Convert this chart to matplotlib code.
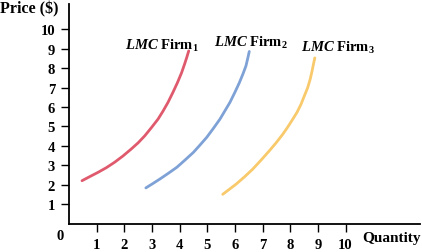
import numpy as np
import matplotlib.pyplot as plt

plt.rcParams['font.family'] = ['Liberation Serif', 'DejaVu Serif']
plt.rcParams['mathtext.fontset'] = 'custom'
plt.rcParams['mathtext.rm'] = 'Liberation Serif:bold'
plt.rcParams['mathtext.it'] = 'Liberation Serif:italic:bold'

# points
firm1_q = [0.47, 0.75, 1.05, 1.35, 1.65, 1.95, 2.25, 2.50, 2.74, 2.98, 3.22, 3.40,
           3.58, 3.76, 3.92, 4.07, 4.18, 4.26, 4.33]
firm1_p = [2.21, 2.42, 2.64, 2.88, 3.16, 3.48, 3.84, 4.16, 4.52, 4.94, 5.38, 5.79,
           6.24, 6.76, 7.25, 7.76, 8.21, 8.56, 8.89]
firm2_q = [2.78, 3.05, 3.29, 3.59, 3.90, 4.20, 4.50, 4.74, 4.98, 5.22, 5.46, 5.64,
           5.82, 6.00, 6.16, 6.29, 6.40, 6.46, 6.52]
firm2_p = [1.84, 2.08, 2.30, 2.59, 2.90, 3.28, 3.67, 4.05, 4.44, 4.90, 5.38, 5.81,
           6.24, 6.76, 7.25, 7.70, 8.12, 8.48, 8.86]
firm3_q = [5.56, 5.80, 6.04, 6.34, 6.64, 6.94, 7.24, 7.49, 7.73, 7.91, 8.09, 8.25,
           8.39, 8.51, 8.63, 8.72, 8.79, 8.84, 8.89]
firm3_p = [1.51, 1.77, 2.03, 2.40, 2.80, 3.26, 3.74, 4.16, 4.60, 4.97, 5.37, 5.74,
           6.14, 6.57, 6.99, 7.42, 7.85, 8.20, 8.53]

labels = [r'$\mathit{LMC}$ Firm$_1$', r'$\mathit{LMC}$ Firm$_2$', r'$\mathit{LMC}$ Firm$_3$']
label_pos = [(3.36, 9.0), (6.58, 9.15), (9.73, 8.9)]
colors = ['#e05a6e', '#7ea1d6', '#f8ca6c']
ticks = [1, 2, 3, 4, 5, 6, 7, 8, 9, 10]

fig = plt.figure(figsize=(4.22, 2.53), dpi=100)
ax = fig.add_axes([0.1635, 0.112, 0.8315, 0.868])

curves = [(firm1_q, firm1_p), (firm2_q, firm2_p), (firm3_q, firm3_p)]
for (q, p), c in zip(curves, colors):
    ax.plot(q, p, color=c, lw=2.0, solid_capstyle='round', solid_joinstyle='round')

for (x, y), lab in zip(label_pos, labels):
    ax.text(x, y, lab, ha='center', va='baseline', fontsize=10.5, fontweight='bold')

ax.set_xlim(0, 12.69)
ax.set_ylim(0, 11.3)
ax.set_xticks(ticks)
ax.set_yticks(ticks)
ax.set_xticklabels([str(t) for t in ticks], fontweight='bold', fontsize=10.5)
ax.set_yticklabels([str(t) for t in ticks], fontweight='bold', fontsize=10.5)
ax.tick_params(axis='x', length=6, width=1, pad=4)
ax.tick_params(axis='y', length=6, width=1, pad=4)

for s in ['top', 'right']:
    ax.spines[s].set_visible(False)
for s in ['left', 'bottom']:
    ax.spines[s].set_linewidth(1.3)

fig.text(0.0, 0.962, 'Price ($)', fontweight='bold', fontsize=11.5, ha='left', va='center')
fig.text(0.997, 0.058, 'Quantity', fontweight='bold', fontsize=11, ha='right', va='center')
fig.text(0.142, 0.065, '0', fontweight='bold', fontsize=10.5, ha='center', va='center')

plt.savefig("out.png", dpi=100)
